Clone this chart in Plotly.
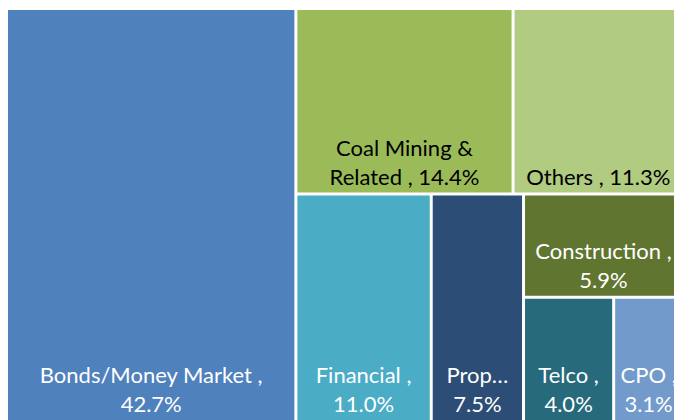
import plotly.graph_objects as go

# Data
categories = ["Bonds/Money Market", "Coal Mining & Related", "Others", "Financial",
              "Property", "Construction", "Telco", "CPO"]
weights = [42.7, 14.4, 11.3, 11.0, 7.5, 5.9, 4.0, 3.1]
tile_text = ["Bonds/Money Market ,<br>42.7%", "Coal Mining &<br>Related , 14.4%",
             "Others , 11.3%", "Financial ,<br>11.0%", "Prop…<br>7.5%",
             "Construction ,<br>5.9%", "Telco ,<br>4.0%", "CPO ,<br>3.1%"]

# Styles
tile_colors = ["#4F81BD", "#9BBB59", "#B1CB80", "#4BACC6",
               "#2C4D75", "#5F7530", "#276A7C", "#729ACA"]
text_colors = ["#FFFFFF", "#000000", "#000000", "#FFFFFF",
               "#FFFFFF", "#FFFFFF", "#FFFFFF", "#FFFFFF"]

# Layout grouping (invisible blocks that reproduce the tile arrangement),
# listed in drawing order: (node id, parent id)
layout_nodes = [
    ("Bonds/Money Market", ""),
    ("g_right", ""),
    ("g_top", "g_right"),
    ("Coal Mining & Related", "g_top"),
    ("Others", "g_top"),
    ("g_bottom", "g_right"),
    ("Financial", "g_bottom"),
    ("Property", "g_bottom"),
    ("g_br", "g_bottom"),
    ("Construction", "g_br"),
    ("g_tc", "g_br"),
    ("Telco", "g_tc"),
    ("CPO", "g_tc"),
]

ids, labels, parents, values, texts, colors, tcolors = [], [], [], [], [], [], []
for node, parent in layout_nodes:
    ids.append(node)
    parents.append(parent)
    if node in categories:
        i = categories.index(node)
        labels.append(categories[i])
        values.append(weights[i])
        texts.append(tile_text[i])
        colors.append(tile_colors[i])
        tcolors.append(text_colors[i])
    else:
        labels.append("")
        values.append(0)
        texts.append("")
        colors.append("#FFFFFF")
        tcolors.append("#FFFFFF")

fig = go.Figure(go.Treemap(
    ids=ids,
    labels=labels,
    parents=parents,
    values=values,
    branchvalues="remainder",
    text=texts,
    textinfo="text",
    textposition="bottom center",
    textfont=dict(family="Lato", size=22, color=tcolors),
    marker=dict(colors=colors, line=dict(width=0),
                pad=dict(t=0, l=0, r=0, b=0)),
    tiling=dict(packing="slice-dice", pad=3),
    pathbar=dict(visible=False),
    sort=False,
    hoverinfo="skip",
))
fig.update_layout(
    width=674, height=412,
    margin=dict(l=0, r=0, t=2, b=0),
    paper_bgcolor="white",
)
fig.write_html("out.html")
